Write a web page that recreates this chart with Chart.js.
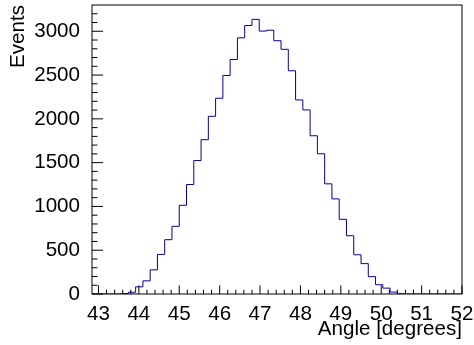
<!DOCTYPE html>
<html>
<head>
<meta charset="utf-8">
<title>Angle</title>
<script src="https://cdn.jsdelivr.net/npm/chart.js@4/dist/chart.umd.min.js"></script>
<style>
  html, body { margin: 0; padding: 0; background: #fff; }
  canvas { display: block; }
</style>
</head>
<body>
<canvas id="histChart" width="474" height="345"></canvas>
<script>
// histogram binning, in degrees
const binLow = 42.84;
const binWidth = 0.18;

// events in each bin
const binCounts = [
  0, 0, 0, 0, 5, 20, 82, 150, 276, 452,
  620, 773, 1013, 1250, 1524, 1762, 2029, 2235, 2495, 2678,
  2925, 3066, 3136, 3002, 3012, 2892, 2794, 2549, 2216, 2102,
  1807, 1601, 1258, 1086, 853, 665, 448, 347, 198, 106,
  67, 22, 3, 0, 0, 0, 0, 0, 0, 0,
  0
];

const xTicks = [43, 44, 45, 46, 47, 48, 49, 50, 51, 52];
const yTicks = [0, 500, 1000, 1500, 2000, 2500, 3000];
const xRange = [42.84, 52];
const yRange = [0, 3300];

const lineColor = '#000099';

// points at low edge of each bin, plus the closing edge
let histPoints = binCounts.map((c, i) => ({ x: binLow + i * binWidth, y: c }));
histPoints.push({ x: binLow + binCounts.length * binWidth, y: 0 });

// ROOT style frame with ticks drawn inside
const rootFrame = {
  id: 'rootFrame',
  afterDatasetsDraw(chart) {
    const { ctx, chartArea: a, scales } = chart;
    const x = scales.x, y = scales.y;
    ctx.save();
    ctx.strokeStyle = '#000';
    ctx.lineWidth = 1;
    ctx.beginPath();

    // x axis: major + 4 minor per unit
    for (let k = (xTicks[0] - 1) * 5; k <= (xTicks[xTicks.length - 1] + 1) * 5; k++) {
      const v = k / 5;
      if (v < xRange[0] || v > xRange[1]) continue;
      const px = x.getPixelForValue(v);
      const len = (k % 5 === 0) ? 8.6 : 4.3;
      ctx.moveTo(px, a.bottom);
      ctx.lineTo(px, a.bottom - len);
    }

    // y axis: major every 500, minor every 100
    for (let k = 0; k * 100 < yRange[1]; k++) {
      const v = k * 100;
      const py = y.getPixelForValue(v);
      const len = (k % 5 === 0) ? 11 : 5.5;
      ctx.moveTo(a.left, py);
      ctx.lineTo(a.left + len, py);
    }
    ctx.stroke();

    ctx.strokeRect(a.left, a.top, a.right - a.left, a.bottom - a.top);
    ctx.restore();
  }
};

Chart.defaults.font.family = "'Liberation Sans', Arial, Helvetica, sans-serif";
Chart.defaults.font.size = 20.6;
Chart.defaults.color = '#000';

new Chart(document.getElementById('histChart'), {
  type: 'line',
  data: {
    datasets: [{
      data: histPoints,
      stepped: 'before',
      borderColor: lineColor,
      borderWidth: 1,
      pointRadius: 0,
      fill: false
    }]
  },
  options: {
    responsive: false,
    animation: false,
    devicePixelRatio: 1,
    layout: { padding: { top: 5, right: 12, left: 0, bottom: 0 } },
    plugins: { legend: { display: false }, tooltip: { enabled: false } },
    scales: {
      x: {
        type: 'linear',
        min: xRange[0],
        max: xRange[1],
        grid: { display: false },
        border: { display: false },
        afterBuildTicks: (scale) => { scale.ticks = xTicks.map(v => ({ value: v })); },
        afterFit: (scale) => {
          scale.height = 51;
          scale.paddingLeft = 0;
          scale.paddingRight = 0;
        },
        ticks: {
          padding: 0,
          maxRotation: 0,
          autoSkip: false,
          callback: (v) => String(v)
        },
        title: {
          display: true,
          text: 'Angle [degrees]',
          align: 'end',
          padding: { top: 0, bottom: 3.7 }
        }
      },
      y: {
        type: 'linear',
        min: yRange[0],
        max: yRange[1],
        grid: { display: false },
        border: { display: false },
        afterBuildTicks: (scale) => { scale.ticks = yTicks.map(v => ({ value: v })); },
        afterFit: (scale) => {
          scale.width = 92;
          scale.paddingTop = 0;
          scale.paddingBottom = 0;
        },
        ticks: {
          padding: 4,
          autoSkip: false,
          callback: (v) => String(v)
        },
        title: {
          display: true,
          text: 'Events',
          align: 'end',
          padding: { top: 5.5, bottom: 0 }
        }
      }
    }
  },
  plugins: [rootFrame]
});
</script>
</body>
</html>
